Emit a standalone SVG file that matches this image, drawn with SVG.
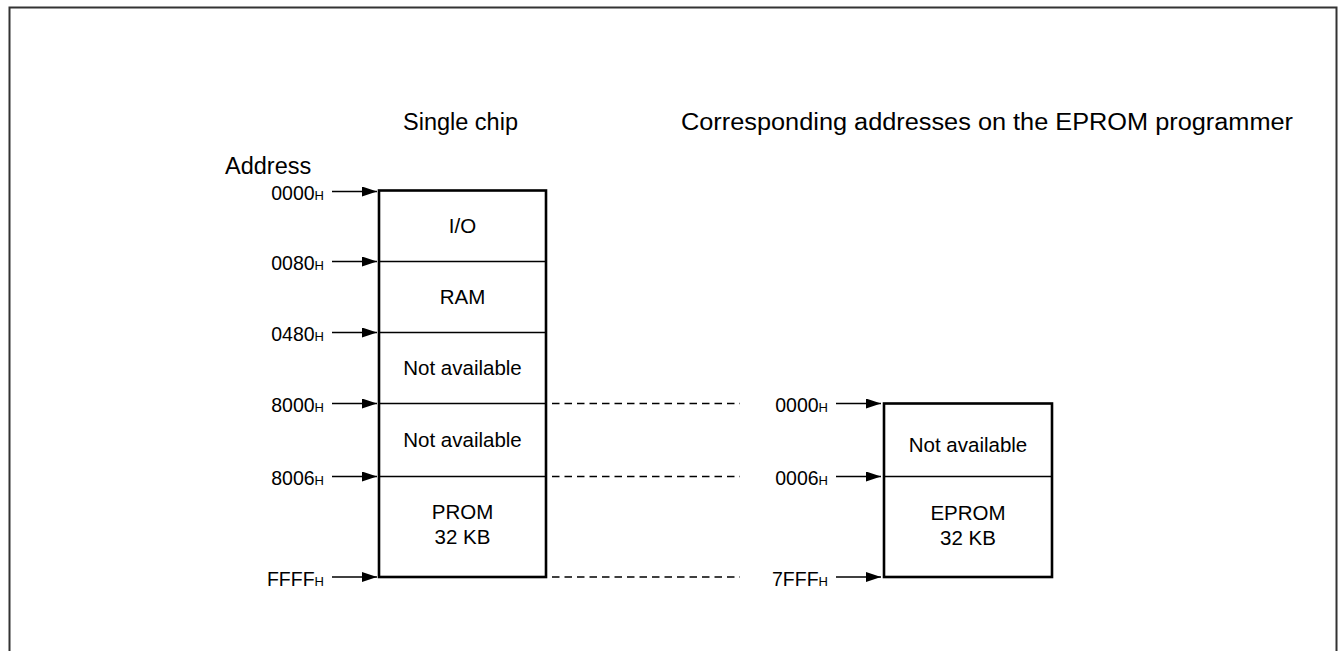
<svg xmlns="http://www.w3.org/2000/svg" width="1340" height="651" viewBox="0 0 1340 651">
<style>
text{font-family:"Liberation Sans",Arial,sans-serif;fill:#000}
.hd{font-size:23.5px}
.bx{font-size:20.5px;text-anchor:middle}
.ad{font-size:19.5px;text-anchor:end}
.sub{font-size:13px}
.outer{fill:#fff;stroke:#000;stroke-width:2.6}
.div{stroke:#000;stroke-width:1.3}
.dash{stroke:#000;stroke-width:1.3;stroke-dasharray:7.5 5}
.arr{stroke:#000;stroke-width:1.6;marker-end:url(#ah)}
</style>
<defs>
<marker id="ah" viewBox="0 0 15 10" refX="15" refY="5" markerWidth="15" markerHeight="10" markerUnits="userSpaceOnUse" orient="auto">
<path d="M0,0 L15,5 L0,10 z" fill="#000"/>
</marker>
</defs>
<rect x="0" y="0" width="1340" height="651" fill="#fff"/>
<rect id="frame" x="9.5" y="7.5" width="1327" height="700" fill="none" stroke="#333" stroke-width="2"/>
<g id="headers">
<text class="hd" x="403" y="130">Single chip</text>
<text class="hd" x="681" y="130" textLength="612" lengthAdjust="spacingAndGlyphs">Corresponding addresses on the EPROM programmer</text>
<text class="hd" x="225" y="174">Address</text>
</g>
<g id="single-chip-map">
<rect class="outer" x="379" y="190.5" width="167" height="386.5"/>
<line class="div" x1="379" y1="261.5" x2="546" y2="261.5"/>
<line class="div" x1="379" y1="332.5" x2="546" y2="332.5"/>
<line class="div" x1="379" y1="403.5" x2="546" y2="403.5"/>
<line class="div" x1="379" y1="476.5" x2="546" y2="476.5"/>
<text class="bx" x="462.5" y="233">I/O</text>
<text class="bx" x="462.5" y="304">RAM</text>
<text class="bx" x="462.5" y="375">Not available</text>
<text class="bx" x="462.5" y="447">Not available</text>
<text class="bx" x="462.5" y="519">PROM</text>
<text class="bx" x="462.5" y="544">32 KB</text>
</g>
<g id="eprom-map">
<rect class="outer" x="884" y="403.5" width="168" height="173.5"/>
<line class="div" x1="884" y1="476.5" x2="1052" y2="476.5"/>
<text class="bx" x="968" y="452">Not available</text>
<text class="bx" x="968" y="520">EPROM</text>
<text class="bx" x="968" y="545">32 KB</text>
</g>
<g id="address-labels">
<text class="ad" x="324" y="199.5">0000<tspan class="sub">H</tspan></text>
<text class="ad" x="324" y="270">0080<tspan class="sub">H</tspan></text>
<text class="ad" x="324" y="341">0480<tspan class="sub">H</tspan></text>
<text class="ad" x="324" y="412">8000<tspan class="sub">H</tspan></text>
<text class="ad" x="324" y="485">8006<tspan class="sub">H</tspan></text>
<text class="ad" x="324" y="586">FFFF<tspan class="sub">H</tspan></text>
<text class="ad" x="828" y="412">0000<tspan class="sub">H</tspan></text>
<text class="ad" x="828" y="485">0006<tspan class="sub">H</tspan></text>
<text class="ad" x="828" y="586">7FFF<tspan class="sub">H</tspan></text>
</g>
<g id="connectors">
<line class="arr" x1="332" y1="191.5" x2="377" y2="191.5"/>
<line class="arr" x1="332" y1="261.5" x2="377" y2="261.5"/>
<line class="arr" x1="332" y1="332.5" x2="377" y2="332.5"/>
<line class="arr" x1="332" y1="403.5" x2="377" y2="403.5"/>
<line class="arr" x1="332" y1="476.5" x2="377" y2="476.5"/>
<line class="arr" x1="332" y1="577" x2="377" y2="577"/>
<line class="arr" x1="836" y1="403.5" x2="881" y2="403.5"/>
<line class="arr" x1="836" y1="476.5" x2="881" y2="476.5"/>
<line class="arr" x1="836" y1="577" x2="881" y2="577"/>
<line class="dash" x1="552" y1="403.5" x2="740" y2="403.5"/>
<line class="dash" x1="552" y1="476.5" x2="740" y2="476.5"/>
<line class="dash" x1="552" y1="577" x2="740" y2="577"/>
</g>
</svg>
